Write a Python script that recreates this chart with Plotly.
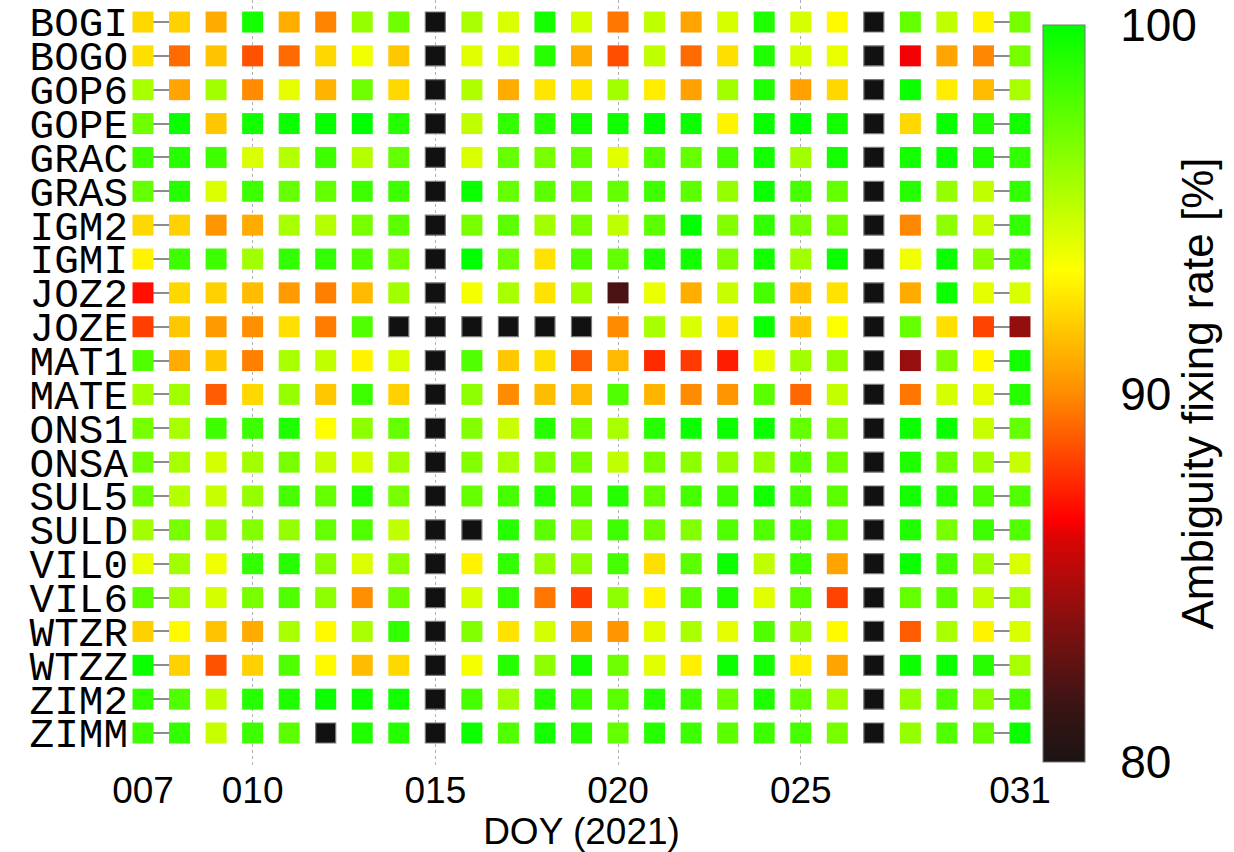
import plotly.graph_objects as go

# ---------------- data ----------------
stations = ["BOGI", "BOGO", "GOP6", "GOPE", "GRAC", "GRAS", "IGM2", "IGMI",
            "JOZ2", "JOZE", "MAT1", "MATE", "ONS1", "ONSA", "SUL5", "SULD",
            "VIL0", "VIL6", "WTZR", "WTZZ", "ZIM2", "ZIMM"]
days = list(range(7, 32))  # DOY 007 ... 031
day_tick_vals = [7, 10, 15, 20, 25, 31]
day_tick_text = ["007", "010", "015", "020", "025", "031"]
rate_ticks = [80, 90, 100]

N = None  # no solution (black square)
BOGI = [92.2, 92.0, 90.9, 99.5, 91.0, 89.8, 96.1, 97.1, N, 95.6, 94.3, 99.5, 94.5, 89.5, 95.0, 90.7, 94.4, 99.2, 94.4, 93.2, N, 97.4, 95.0, 93.0, 96.9]
BOGO = [92.4, 89.2, 91.6, 88.6, 89.2, 92.2, 93.7, 91.7, N, 94.1, 94.1, 99.0, 91.0, 88.5, 95.0, 89.2, 92.4, 99.2, 94.4, 93.9, N, 86.4, 90.7, 89.9, 96.9]
GOP6 = [95.6, 90.7, 95.8, 90.0, 94.0, 91.2, 97.1, 92.2, N, 95.4, 90.9, 92.6, 92.6, 95.8, 92.8, 90.6, 95.8, 99.2, 90.6, 92.2, N, 99.7, 92.8, 91.4, 95.6]
GOPE = [97.1, 99.7, 91.7, 99.5, 99.7, 99.8, 100.0, 99.0, N, 95.0, 98.7, 99.0, 99.5, 99.6, 99.8, 99.7, 93.0, 99.8, 99.8, 99.5, N, 92.2, 99.8, 99.2, 99.5]
GRAC = [98.4, 99.0, 98.4, 94.3, 95.3, 98.4, 95.3, 97.4, N, 94.3, 97.4, 96.9, 97.4, 94.1, 97.9, 97.4, 98.2, 99.5, 95.8, 99.5, N, 99.5, 99.7, 99.2, 98.7]
GRAS = [97.4, 99.0, 94.3, 98.4, 97.4, 97.4, 98.4, 98.4, N, 99.7, 97.4, 97.6, 97.4, 97.4, 98.4, 97.6, 96.1, 99.7, 98.2, 97.4, N, 99.0, 96.1, 95.0, 98.7]
IGM2 = [92.2, 92.0, 90.3, 90.9, 95.6, 95.3, 96.9, 97.6, N, 96.9, 97.6, 95.8, 96.9, 95.0, 97.6, 100.0, 96.6, 98.7, 96.9, 97.1, N, 89.9, 96.3, 94.8, 98.7]
IGMI = [93.0, 98.4, 98.4, 95.8, 98.7, 98.7, 97.9, 96.9, N, 100.0, 97.1, 92.5, 97.9, 97.4, 99.2, 99.5, 96.6, 99.5, 95.8, 99.7, N, 93.7, 99.7, 96.3, 98.4]
JOZ2 = [87.0, 92.2, 92.0, 91.4, 90.4, 89.7, 91.3, 95.8, N, 93.6, 95.6, 92.5, 95.8, 82.0, 93.9, 91.0, 94.8, 98.2, 91.6, 92.5, N, 90.9, 99.7, 94.0, 94.3]
JOZE = [88.1, 91.7, 90.4, 90.1, 92.4, 89.6, 97.9, N, N, N, N, N, N, 90.0, 95.6, 94.3, 92.6, 99.7, 91.6, 93.4, N, 97.4, 92.4, 88.2, 84.2]
MAT1 = [97.9, 90.9, 91.7, 89.7, 95.6, 95.0, 93.0, 94.3, N, 97.9, 91.7, 92.4, 88.8, 91.3, 87.6, 88.0, 87.3, 93.9, 95.8, 96.1, N, 84.3, 96.6, 93.2, 99.5]
MATE = [95.8, 95.8, 88.8, 92.2, 96.1, 91.7, 98.4, 92.0, N, 96.3, 90.0, 91.4, 91.3, 97.9, 91.2, 90.0, 90.3, 97.6, 89.1, 94.9, N, 89.5, 94.5, 94.0, 99.0]
ONS1 = [96.9, 95.6, 98.4, 98.4, 99.2, 93.3, 96.3, 97.4, N, 96.6, 94.8, 99.0, 97.1, 95.6, 99.0, 99.7, 99.7, 99.7, 97.4, 96.6, N, 99.7, 99.7, 94.8, 97.4]
ONSA = [97.1, 95.6, 94.5, 95.8, 96.9, 94.8, 94.4, 95.8, N, 96.6, 95.6, 96.6, 96.9, 95.0, 96.9, 96.3, 96.1, 96.1, 97.6, 97.1, N, 99.2, 97.1, 95.8, 94.8]
SUL5 = [97.1, 95.3, 94.8, 96.1, 98.2, 97.4, 99.0, 96.9, N, 97.4, 98.2, 99.0, 97.9, 99.0, 97.4, 98.2, 98.4, 99.5, 98.2, 97.6, N, 99.5, 99.0, 97.9, 97.9]
SULD = [95.8, 96.9, 96.1, 96.6, 96.1, 97.4, 97.9, 95.0, N, N, 99.0, 97.6, 96.6, 98.4, 97.1, 96.6, 97.9, 97.9, 98.2, 97.6, N, 99.2, 96.9, 98.4, 97.9]
VIL0 = [93.9, 95.8, 93.7, 98.7, 99.0, 96.3, 94.3, 96.3, N, 93.0, 98.7, 96.1, 96.3, 98.2, 92.4, 97.6, 99.7, 95.0, 98.4, 90.7, N, 99.7, 98.2, 95.8, 94.3]
VIL6 = [97.6, 95.8, 94.5, 96.9, 97.9, 96.3, 90.1, 97.1, N, 94.5, 98.7, 89.5, 88.1, 96.3, 93.0, 97.6, 99.2, 94.1, 97.6, 88.2, N, 97.4, 97.6, 95.0, 95.6]
WTZR = [92.0, 93.2, 91.6, 90.9, 95.6, 93.2, 95.6, 98.7, N, 96.6, 92.5, 94.5, 90.4, 90.3, 94.1, 95.6, 94.0, 97.9, 96.1, 93.2, N, 88.8, 95.6, 93.0, 94.3]
WTZZ = [99.7, 92.0, 88.6, 92.0, 97.9, 93.2, 91.4, 92.2, N, 93.6, 99.0, 96.3, 99.5, 97.1, 94.1, 92.9, 99.7, 99.5, 92.8, 90.7, N, 99.7, 99.7, 99.0, 95.6]
ZIM2 = [98.7, 97.9, 95.0, 99.0, 99.2, 99.7, 99.6, 99.5, N, 98.2, 95.8, 99.0, 98.4, 97.6, 99.0, 98.4, 97.1, 99.2, 97.4, 95.8, N, 96.1, 97.9, 96.3, 98.2]
ZIMM = [98.4, 98.7, 94.8, 98.4, 97.6, N, 99.2, 99.0, N, 99.7, 97.9, 99.5, 99.0, 97.4, 99.0, 98.4, 97.6, 98.4, 98.2, 96.9, N, 96.1, 97.9, 97.4, 99.7]

rates = [BOGI, BOGO, GOP6, GOPE, GRAC, GRAS, IGM2, IGMI, JOZ2, JOZE, MAT1,
         MATE, ONS1, ONSA, SUL5, SULD, VIL0, VIL6, WTZR, WTZZ, ZIM2, ZIMM]

# ---------------- build marks ----------------
xs, ys, vals = [], [], []
mx, my = [], []
for st, row in zip(stations, rates):
    for d, v in zip(days, row):
        if v is None:
            mx.append(d)
            my.append(st)
        else:
            xs.append(d)
            ys.append(st)
            vals.append(v)

colorscale = [
    [0.00, "rgb(28,20,20)"],
    [0.08, "rgb(60,20,20)"],
    [0.20, "rgb(140,15,15)"],
    [0.30, "rgb(215,5,5)"],
    [0.33, "rgb(255,0,0)"],
    [0.50, "rgb(255,140,0)"],
    [0.667, "rgb(255,255,0)"],
    [1.00, "rgb(0,255,0)"],
]
cmin, cmax = 80, 100

W, H = 1234, 852
L, R = 143, 1020          # plot area in px
T, B = 0, 765
pw = R - L
ph = B - T
cb_left, cb_thick = 1043, 42
cb_top, cb_bottom = 25, 762

fig = go.Figure()
fig.add_trace(go.Scatter(
    x=mx, y=my, mode="markers", cliponaxis=False, showlegend=False,
    marker=dict(symbol="square", size=20, color="rgb(17,17,17)",
                line=dict(width=1.2, color="rgb(120,120,120)")),
    hoverinfo="skip",
))
fig.add_trace(go.Scatter(
    x=xs, y=ys, mode="markers", cliponaxis=False, showlegend=False,
    marker=dict(
        symbol="square", size=21, color=vals, colorscale=colorscale,
        cmin=cmin, cmax=cmax, line=dict(width=0),
        colorbar=dict(
            x=(cb_left - L) / pw, xanchor="left", xpad=0,
            thickness=cb_thick, thicknessmode="pixels",
            lenmode="pixels", len=cb_bottom - cb_top,
            y=(B - cb_bottom) / ph, yanchor="bottom", ypad=0,
            outlinewidth=1, outlinecolor="#777",
            tickmode="array",
            tickvals=rate_ticks, ticktext=[str(t) for t in rate_ticks],
            ticks="outside", ticklen=26, tickcolor="rgba(0,0,0,0)",
            ticklabeloverflow="allow",
            tickfont=dict(size=46, family="Liberation Sans", color="black"),
            title=dict(text="Ambiguity fixing rate [%]", side="right",
                       font=dict(size=44, family="Liberation Sans", color="black")),
        ),
    ),
))

# small inner tick marks on both edges of the colour bar (interior ticks only)
for t in rate_ticks[1:-1]:
    ty = (B - (cb_bottom - (t - cmin) / (cmax - cmin) * (cb_bottom - cb_top))) / ph
    for x0, x1 in [(cb_left, cb_left + 7), (cb_left + cb_thick - 7, cb_left + cb_thick)]:
        fig.add_shape(type="line", xref="paper", yref="paper",
                      x0=(x0 - L) / pw, x1=(x1 - L) / pw, y0=ty, y1=ty,
                      line=dict(color="#444", width=1))

fig.update_layout(
    width=W, height=H,
    margin=dict(l=L, r=W - R, t=T, b=H - B, pad=0),
    plot_bgcolor="white", paper_bgcolor="white",
    font=dict(family="Liberation Sans", color="black"),
)
fig.update_xaxes(
    range=[7, 31], tickmode="array", tickvals=day_tick_vals, ticktext=day_tick_text,
    showgrid=True, gridcolor="#b0b0b0", gridwidth=1, griddash="dot",
    zeroline=False, showline=False, ticks="", ticklabelstandoff=0,
    tickfont=dict(size=37, family="Liberation Sans"),
    title=dict(text="DOY (2021)", font=dict(size=37, family="Liberation Sans"), standoff=10),
    layer="below traces",
)
fig.update_yaxes(
    type="category", categoryorder="array", categoryarray=stations,
    tickmode="array", tickvals=stations, ticktext=stations,
    range=[21.945, -0.65], showgrid=False, zeroline=False, showline=False,
    ticks="inside", ticklen=27, tickwidth=2, tickcolor="#8c8c8c", mirror="ticks",
    ticklabelstandoff=14,
    tickfont=dict(size=41, family="Liberation Mono"),
    layer="below traces",
)

fig.write_html("out.html")
